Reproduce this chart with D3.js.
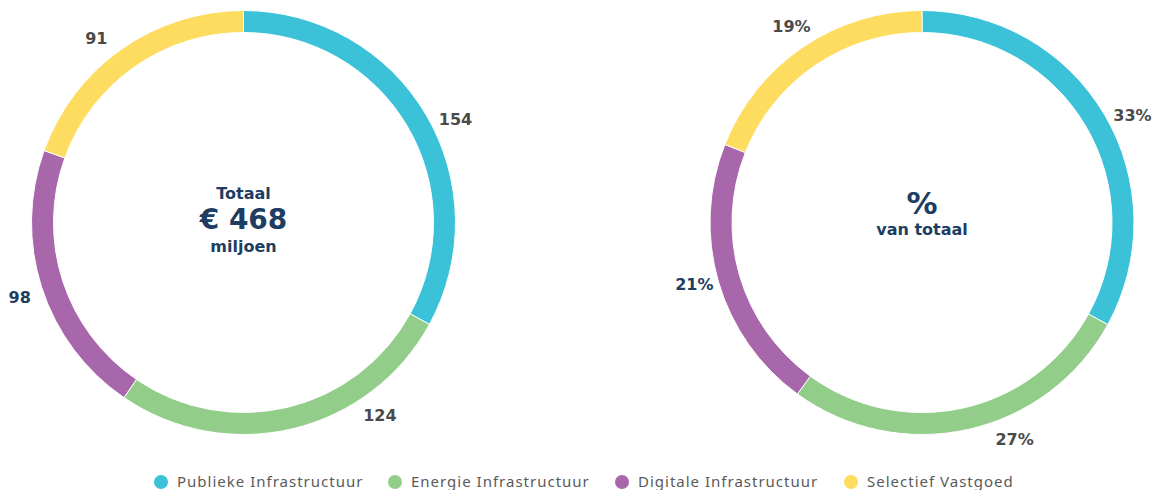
<!DOCTYPE html>
<html>
<head>
<meta charset="utf-8">
<script src="https://cdn.jsdelivr.net/npm/d3@7/dist/d3.min.js"></script>
<style>
    body { margin: 0; background: #fff; font-family: 'Noto Sans', 'Open Sans', sans-serif; }
    svg { display: block; }
</style>
</head>
<body>
<div id="chart"></div>
<script>

// data
var categories = ["Publieke Infrastructuur", "Energie Infrastructuur", "Digitale Infrastructuur", "Selectief Vastgoed"];
var amounts = [154, 124, 98, 91];
var percents = [33, 27, 21, 19];
var colors = ["#3bc2d8", "#93cd8a", "#a867ab", "#fddc5f"];
var totalLabel = "€ 468";

var W = 1159, H = 490;
var svg = d3.select("#chart").append("svg")
    .attr("width", W)
    .attr("height", H);

var outerR = 212, innerR = 190, labelR = 236;
var navy = "#1d3d62";
var boldFont = "'DejaVu Sans', sans-serif";

var pie = d3.pie().sort(null).value(function(d) { return d; });
var arc = d3.arc().innerRadius(innerR).outerRadius(outerR);

// label angle nudges (degrees) so labels clear the legend, as in the original
function drawDonut(cx, cy, values, labels, nudges, labelColors) {
    var g = svg.append("g").attr("transform", "translate(" + cx + "," + cy + ")");
    var arcs = pie(values);

    g.selectAll("path")
        .data(arcs)
        .enter().append("path")
        .attr("d", arc)
        .style("fill", function(d, i) { return colors[i]; })
        .style("stroke", "#fff")
        .style("stroke-width", "1px");

    g.selectAll(".lbl")
        .data(arcs)
        .enter().append("text")
        .attr("class", "lbl")
        .attr("x", function(d, i) {
            var a = (d.startAngle + d.endAngle) / 2 + nudges[i] * Math.PI / 180;
            return labelR * Math.sin(a);
        })
        .attr("y", function(d, i) {
            var a = (d.startAngle + d.endAngle) / 2 + nudges[i] * Math.PI / 180;
            return -labelR * Math.cos(a);
        })
        .attr("dy", "0.35em")
        .attr("text-anchor", "middle")
        .style("font-family", boldFont)
        .style("font-size", "16px")
        .style("font-weight", "bold")
        .style("fill", function(d, i) { return labelColors[i]; })
        .text(function(d, i) { return labels[i]; });
    return g;
}

var labelColors = ["#4a4a4a", "#4a4a4a", navy, "#4a4a4a"];

var left = drawDonut(243.5, 222.5, amounts, amounts, [4.6, -21.8, -0.6, -3.5], labelColors);
var right = drawDonut(922, 222.5, percents, percents.map(function(p) { return p + "%"; }), [3.7, -10.5, 0.9, 0.6], labelColors);

function centreText(g, y, size, txt) {
    g.append("text").attr("x", 0).attr("y", y).attr("text-anchor", "middle")
        .style("font-family", boldFont)
        .style("font-size", size + "px").style("font-weight", "bold").style("fill", navy)
        .text(txt);
}

// centre texts
centreText(left, -24, 16, "Totaal");
centreText(left, 6, 28, totalLabel);
centreText(left, 29, 16, "miljoen");

centreText(right, -9, 31, "%");
centreText(right, 12, 16, "van totaal");

// legend
var legendX = [161, 395, 622, 851];
var legend = svg.selectAll(".leg")
    .data(categories)
    .enter().append("g")
    .attr("class", "leg")
    .attr("transform", function(d, i) { return "translate(" + legendX[i] + ",482)"; });
legend.append("circle")
    .attr("r", 7)
    .style("fill", function(d, i) { return colors[i]; });
legend.append("text")
    .attr("x", 16)
    .attr("dy", "0.35em")
    .style("font-size", "15px")
    .style("letter-spacing", "1px")
    .style("fill", "#5a5a5a")
    .text(function(d) { return d; });

</script>
</body>
</html>
